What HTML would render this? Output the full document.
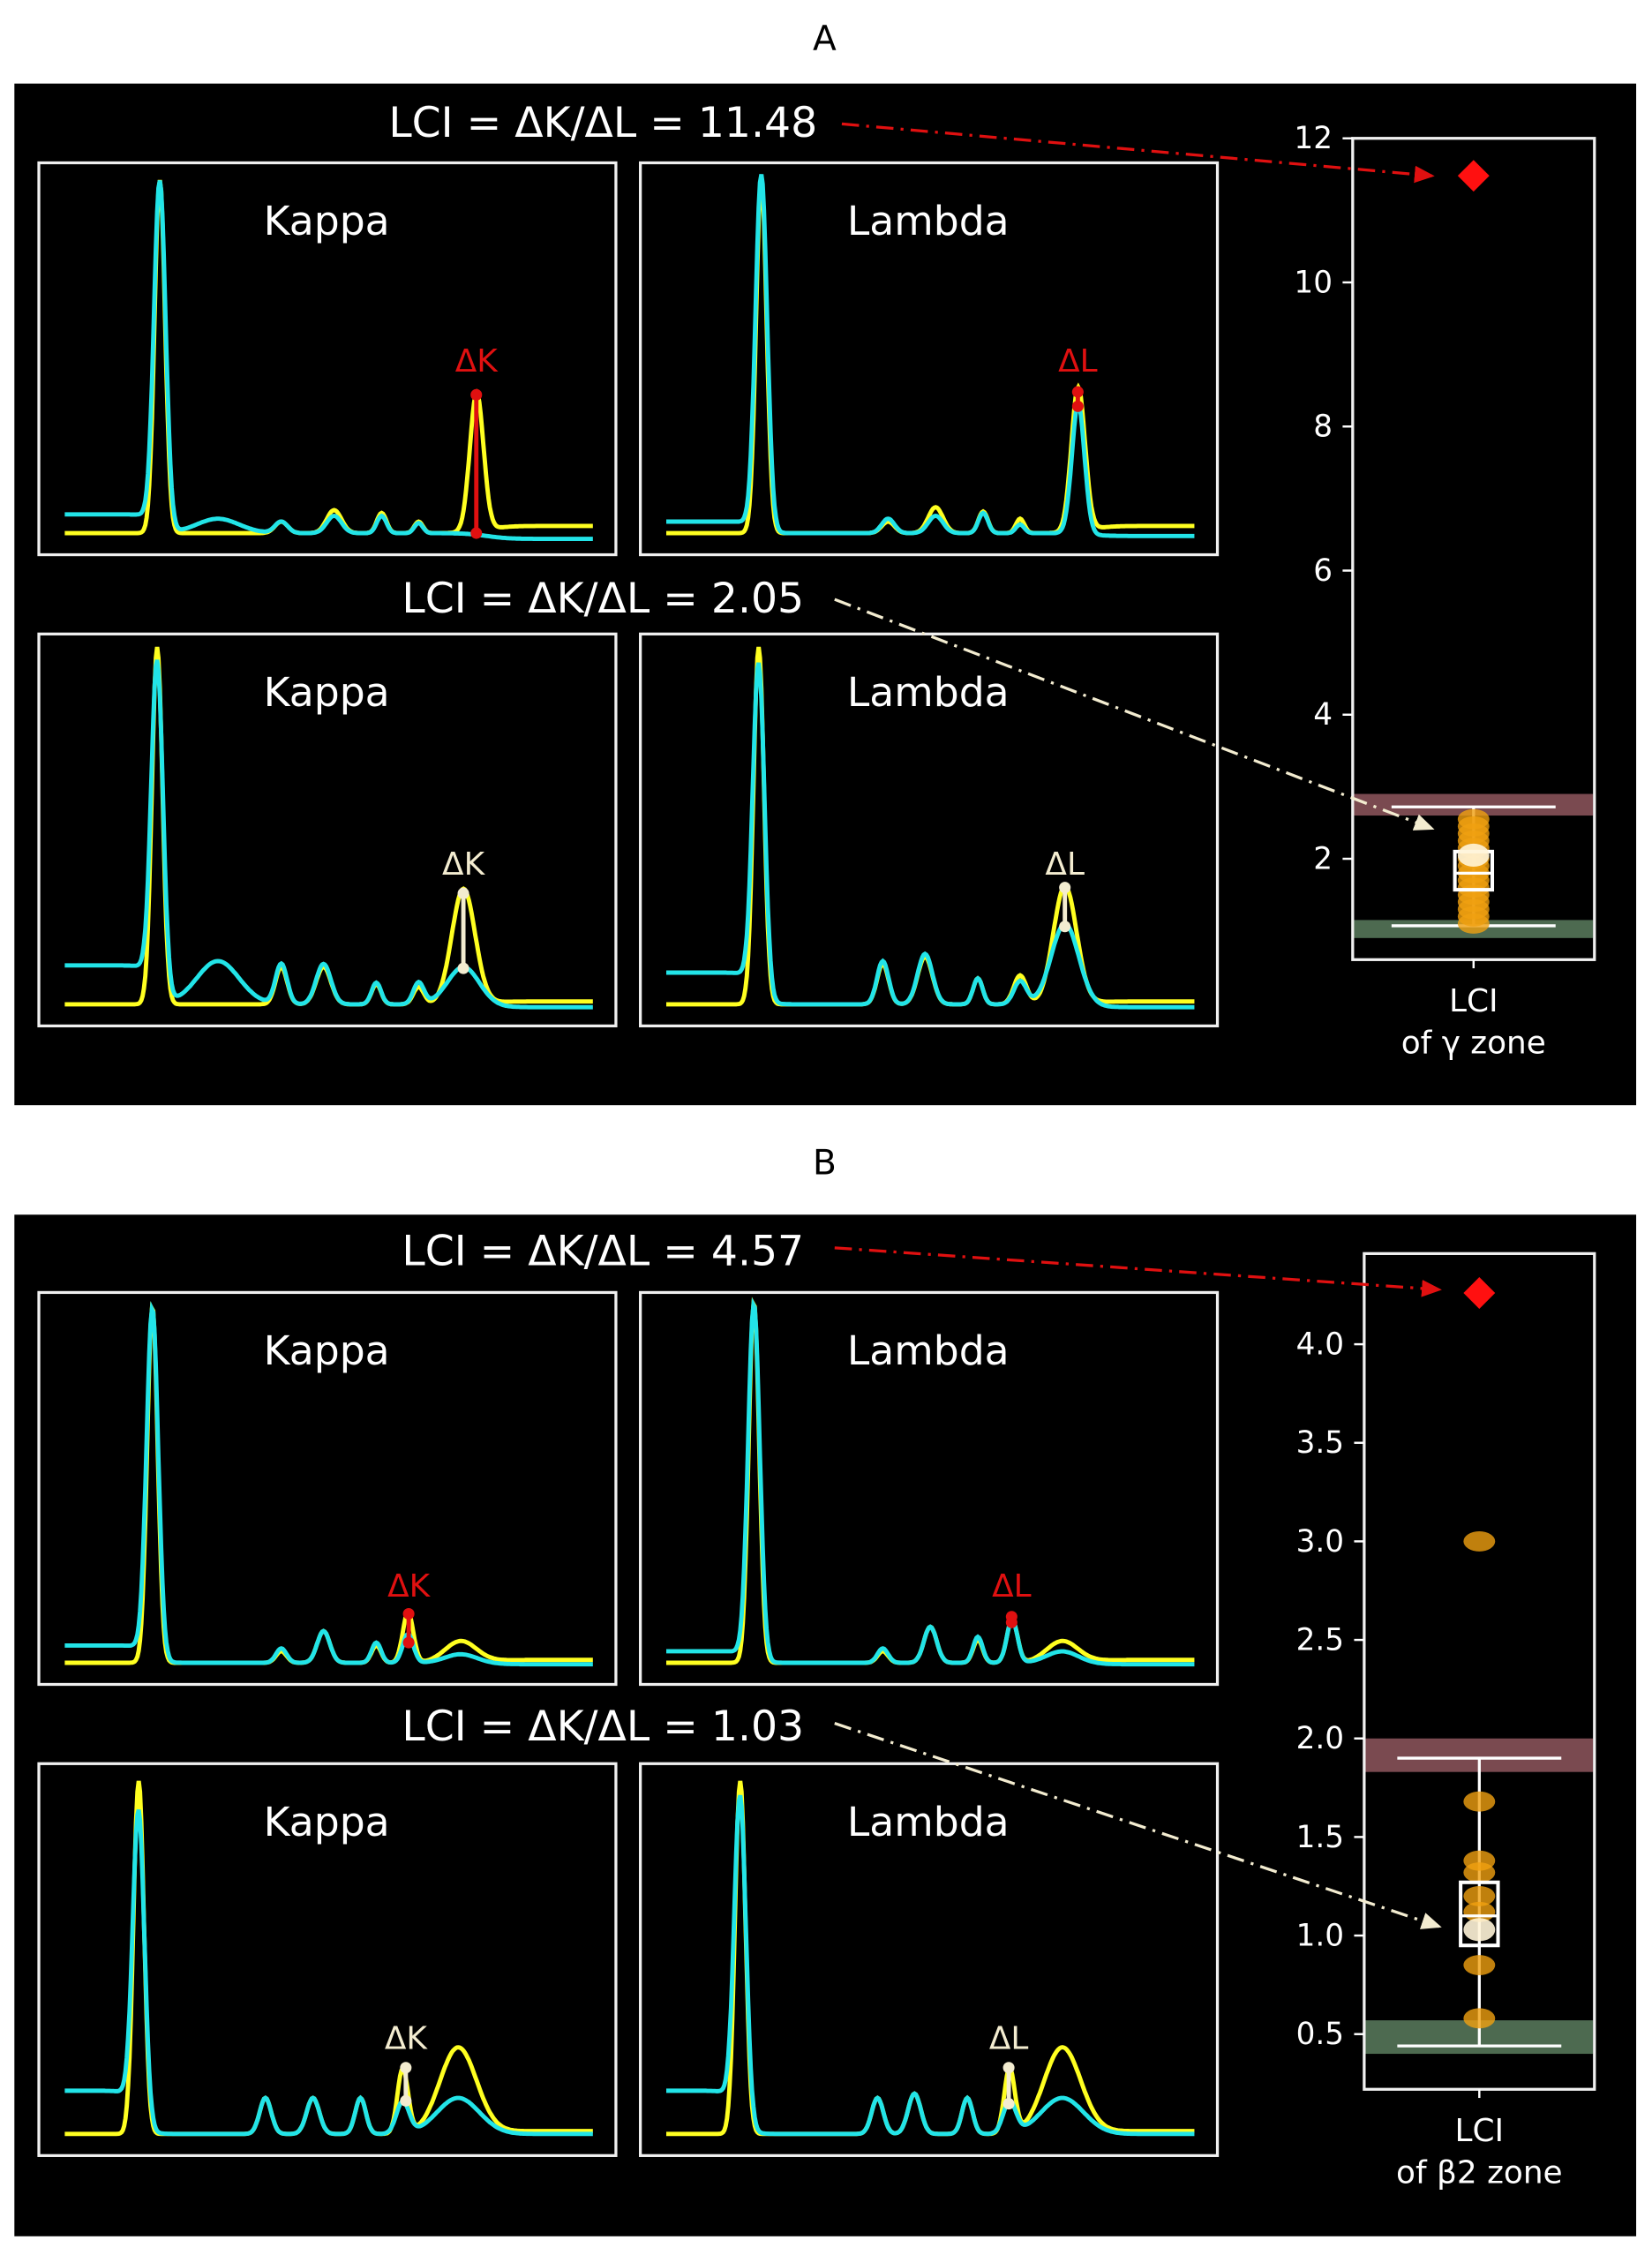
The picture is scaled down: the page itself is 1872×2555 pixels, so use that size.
<!DOCTYPE html>
<html><head><meta charset="utf-8"><style>
html,body{margin:0;padding:0;background:#fff}
svg{display:block}
text{font-family:"DejaVu Sans","Liberation Sans",sans-serif}
</style></head><body>
<svg id="fig" width="1872" height="2555" viewBox="0 0 1148 1565" preserveAspectRatio="none" xmlns="http://www.w3.org/2000/svg">
<defs>
<marker id="ahR" markerWidth="8" markerHeight="8" refX="6" refY="4" orient="auto"><path d="M0,1 L7,4 L0,7 Z" fill="#e01010"/></marker>
<marker id="ahW" markerWidth="8" markerHeight="8" refX="6" refY="4" orient="auto"><path d="M0,1 L7,4 L0,7 Z" fill="#f3ecd0"/></marker>
</defs>
<text x="573" y="35" font-size="24" text-anchor="middle" fill="#000">A</text>
<rect x="10" y="58" width="1127" height="709" fill="#000"/>
<text x="573" y="815" font-size="24" text-anchor="middle" fill="#000">B</text>
<rect x="10" y="843" width="1127" height="709" fill="#000"/>
<g id="content"></g>
</svg>
<script>
// ---- data: spectra peaks [center(0..1), height(px units), width] ----
const aTopKappaYellow=[[0.18,245,0.010],[0.41,8,0.012],[0.51,16,0.014],[0.60,14,0.009],[0.67,8,0.008],[0.78,96,0.013]];
const aTopKappaCyan=[[0.18,238,0.011],[0.29,10,0.04],[0.41,8,0.012],[0.51,12,0.014],[0.60,12,0.009],[0.67,7,0.008]];
const aTopLambdaYellow=[[0.18,245,0.010],[0.42,8,0.012],[0.51,18,0.014],[0.60,15,0.009],[0.67,10,0.008],[0.78,100,0.013]];
const aTopLambdaCyan=[[0.18,245,0.011],[0.42,10,0.012],[0.51,12,0.014],[0.60,14,0.009],[0.67,6,0.008],[0.78,90,0.012]];
const aBotKappaYellow=[[0.175,248,0.010],[0.41,26,0.011],[0.49,26,0.014],[0.59,14,0.009],[0.67,12,0.010],[0.755,80,0.022]];
const aBotKappaCyan=[[0.175,225,0.011],[0.29,30,0.04],[0.41,28,0.011],[0.49,28,0.014],[0.59,15,0.009],[0.67,15,0.010],[0.755,26,0.03]];
const aBotLambdaYellow=[[0.175,248,0.010],[0.41,28,0.011],[0.49,33,0.014],[0.59,18,0.009],[0.67,20,0.012],[0.755,82,0.022]];
const aBotLambdaCyan=[[0.175,226,0.011],[0.41,30,0.011],[0.49,35,0.014],[0.59,18,0.009],[0.67,16,0.012],[0.755,56,0.026]];
const bTopKappaYellow=[[0.166,247,0.010],[0.41,8,0.010],[0.49,22,0.012],[0.59,12,0.009],[0.65,35,0.010],[0.75,15,0.03]];
const bTopKappaCyan=[[0.166,240,0.011],[0.41,10,0.010],[0.49,22,0.012],[0.59,14,0.009],[0.65,20,0.010],[0.75,6,0.03]];
const bTopLambdaYellow=[[0.166,250,0.010],[0.41,8,0.010],[0.50,25,0.012],[0.59,16,0.009],[0.655,30,0.010],[0.75,15,0.03]];
const bTopLambdaCyan=[[0.166,245,0.011],[0.41,10,0.010],[0.50,25,0.012],[0.59,18,0.009],[0.655,30,0.010],[0.75,8,0.03]];
const bBotKappaYellow=[[0.14,245,0.010],[0.38,25,0.011],[0.47,25,0.012],[0.56,25,0.010],[0.64,45,0.010],[0.745,60,0.035]];
const bBotKappaCyan=[[0.14,210,0.011],[0.38,25,0.011],[0.47,25,0.012],[0.56,25,0.010],[0.64,22,0.012],[0.745,25,0.04]];
const bBotLambdaYellow=[[0.14,245,0.010],[0.40,25,0.011],[0.47,28,0.012],[0.57,25,0.010],[0.65,45,0.010],[0.75,60,0.035]];
const bBotLambdaCyan=[[0.14,220,0.011],[0.40,25,0.011],[0.47,28,0.012],[0.57,25,0.010],[0.65,22,0.012],[0.75,25,0.04]];
// ---- box-plot data ----
const aTicks=[2,4,6,8,10,12];
const aPoints=[2.55,2.45,2.35,2.25,2.15,2.0,1.9,1.8,1.7,1.6,1.5,1.4,1.3,1.2,1.1];
const aSample=[2.05];
const aOutlier=[11.48];
const aBox=[1.07,1.57,1.8,2.1,2.72]; // whiskerLo,q1,median,q3,whiskerHi
const aBands=[[2.6,2.9],[0.9,1.15]];
const bTicks=[0.5,1.0,1.5,2.0,2.5,3.0,3.5,4.0];
const bPoints=[3.0,1.68,1.38,1.32,1.2,1.12,0.85,0.58];
const bSample=[1.03];
const bOutlier=[4.26];
const bBox=[0.44,0.95,1.1,1.27,1.9];
const bBands=[[1.83,2.0],[0.4,0.57]];

const NS="http://www.w3.org/2000/svg";
const root=document.getElementById('content');
function mk(tag,attrs,parent){const e=document.createElementNS(NS,tag);for(const k in attrs)e.setAttribute(k,attrs[k]);(parent||root).appendChild(e);return e;}

function spectrum(peaks,x0,y0,shelf,endOff){
  const base=y0+257, W=367, xs=x0+18;
  let d='';
  for(let i=0;i<=400;i++){
    const t=i/400;
    let v=0;
    for(const p of peaks){v+=p[1]*Math.exp(-((t-p[0])**2)/(2*p[2]*p[2]));}
    const s=1/(1+Math.exp((t-peaks[0][0])/0.01));
    v+=shelf*s;
    v+=endOff*(1/(1+Math.exp(-(t-0.8)/0.02)));
    d+=(i?'L':'M')+(xs+t*W).toFixed(1)+','+(base-v).toFixed(1);
  }
  return d;
}
function subplot(name,x0,y0,title,yel,cyan,shelfY,shelfC,endY,endC){
  const g=mk('g',{});
  
  
  const r=mk('rect',{x:x0,y:y0,width:401,height:272,fill:'#000',stroke:'#f0f0f0','stroke-width':2},g);
  
  
  const tt=mk('text',{x:x0+200,y:y0+50,'font-size':28,'text-anchor':'middle',fill:'#fff'},g);
  tt.textContent=title;
  
  
  const py=mk('path',{d:spectrum(yel,x0,y0,shelfY,endY),fill:'none',stroke:'#ffff20','stroke-width':3},g);
  
  
  const pc=mk('path',{d:spectrum(cyan,x0,y0,shelfC,endC),fill:'none',stroke:'#22e4e8','stroke-width':3},g);
  
  
  return g;
}
function delta(name,x,y1,y2,label,color,ly){
  const l=mk('line',{x1:x,y1:y1,x2:x,y2:y2,stroke:color,'stroke-width':3});
  
  
  [y1,y2].forEach(y=>{const c=mk('circle',{cx:x,cy:y,r:4,fill:color});
    
    });
  const t=mk('text',{x:x,y:ly,'font-size':22,'text-anchor':'middle',fill:color});
  t.textContent=label;
  
  
}
function heading(name,x,y,txt){
  const t=mk('text',{x:x,y:y,'font-size':29,'text-anchor':'middle',fill:'#fff'});
  t.textContent=txt;
  
  
}
function arrow(name,x1,y1,x2,y2,color,mid){
  const l=mk('line',{x1,y1,x2,y2,stroke:color,'stroke-width':2,'stroke-dasharray':'12,5,2,5','marker-end':'url(#'+mid+')'});
  
  
}
// Panel A
subplot('a-top-kappa',27,113,'Kappa',aTopKappaYellow,aTopKappaCyan,0,13,5,-4);
subplot('a-top-lambda',445,113,'Lambda',aTopLambdaYellow,aTopLambdaCyan,0,8,5,-2);
subplot('a-bottom-kappa',27,440,'Kappa',aBotKappaYellow,aBotKappaCyan,0,27,2,-2);
subplot('a-bottom-lambda',445,440,'Lambda',aBotLambdaYellow,aBotLambdaCyan,0,22,2,-2);
delta('a-top-delta-k',331,274,370,'ΔK','#e01010',258);
delta('a-top-delta-l',749,272,282,'ΔL','#e01010',258);
delta('a-bottom-delta-k',322,620,672,'ΔK','#f3ecd0',607);
delta('a-bottom-delta-l',740,616,643,'ΔL','#f3ecd0',607);
heading('a-top-lci-text',419,95,'LCI = ΔK/ΔL = 11.48');
heading('a-bottom-lci-text',419,425,'LCI = ΔK/ΔL = 2.05');
// Panel B
subplot('b-top-kappa',27,897,'Kappa',bTopKappaYellow,bTopKappaCyan,0,12,2,-1);
subplot('b-top-lambda',445,897,'Lambda',bTopLambdaYellow,bTopLambdaCyan,0,8,2,-1);
subplot('b-bottom-kappa',27,1224,'Kappa',bBotKappaYellow,bBotKappaCyan,0,30,2,0);
subplot('b-bottom-lambda',445,1224,'Lambda',bBotLambdaYellow,bBotLambdaCyan,0,30,2,0);
delta('b-top-delta-k',284,1120,1140,'ΔK','#e01010',1108);
delta('b-top-delta-l',703,1122,1126,'ΔL','#e01010',1108);
delta('b-bottom-delta-k',282,1435,1458,'ΔK','#f3ecd0',1422);
delta('b-bottom-delta-l',701,1435,1460,'ΔL','#f3ecd0',1422);
heading('b-top-lci-text',419,878,'LCI = ΔK/ΔL = 4.57');
heading('b-bottom-lci-text',419,1208,'LCI = ΔK/ΔL = 1.03');

function boxAxis(prefix,bx,by,bw,bh,vmin,vmax,ticks,fmt,points,sample,outlier,box,bands,xl1,xl2){
  const y=v=>by+bh-(v-vmin)/(vmax-vmin)*bh;
  const cx=bx+bw/2;
  bands.forEach((b,i)=>{const r=mk('rect',{x:bx+1,y:y(b[1]),width:bw-2,height:y(b[0])-y(b[1]),fill:i==0?'#7a4a50':'#4d6a50'});
    
    });
  const wl=mk('line',{x1:cx,x2:cx,y1:y(box[0]),y2:y(box[4]),stroke:'#fff','stroke-width':2});
  
  
  [box[0],box[4]].forEach(v=>{const c=mk('line',{x1:cx-57,x2:cx+57,y1:y(v),y2:y(v),stroke:'#fff','stroke-width':2});
    
    });
  points.forEach(v=>{const c=mk('ellipse',{cx:cx,cy:y(v),rx:11,ry:7,fill:'#f0a010','fill-opacity':0.8});
    
    });
  const bb=mk('rect',{x:cx-13,y:y(box[3]),width:26,height:y(box[1])-y(box[3]),fill:'none',stroke:'#fff','stroke-width':2.5});
  
  
  const md=mk('line',{x1:cx-13,x2:cx+13,y1:y(box[2]),y2:y(box[2]),stroke:'#fff','stroke-width':2});
  
  
  sample.forEach(v=>{const c=mk('ellipse',{cx:cx,cy:y(v),rx:11,ry:8,fill:'#fff4d8','fill-opacity':0.9});
    
    });
  outlier.forEach(v=>{const yy=Math.max(y(v),by+14);const c=mk('path',{d:`M${cx},${yy-11} L${cx+11},${yy} L${cx},${yy+11} L${cx-11},${yy} Z`,fill:'#ff1010'});
    
    });
  const fr=mk('rect',{x:bx,y:by,width:bw,height:bh,fill:'none',stroke:'#f0f0f0','stroke-width':2});
  
  
  ticks.forEach(v=>{
    const tl=mk('line',{x1:bx-7,x2:bx,y1:y(v),y2:y(v),stroke:'#fff','stroke-width':1.5});
    
    
    const t=mk('text',{x:bx-14,y:y(v)+7,'font-size':21,'text-anchor':'end',fill:'#fff'});
    t.textContent=fmt(v);
    
    
  });
  const xt=mk('line',{x1:cx,x2:cx,y1:by+bh,y2:by+bh+6,stroke:'#fff','stroke-width':1.5});
  
  
  const t1=mk('text',{x:cx,y:by+bh+36,'font-size':22,'text-anchor':'middle',fill:'#fff'});
  t1.textContent=xl1;
  
  
  const t2=mk('text',{x:cx,y:by+bh+65,'font-size':22,'text-anchor':'middle',fill:'#fff'});
  t2.textContent=xl2;
  
  
}
boxAxis('a-lci-axis',940,96,168,570,0.6,12,aTicks,v=>String(v),aPoints,aSample,aOutlier,aBox,aBands,'LCI','of γ zone');
boxAxis('b-lci-axis',948,870,160,580,0.22,4.46,bTicks,v=>v.toFixed(1),bPoints,bSample,bOutlier,bBox,bBands,'LCI','of β2 zone');
arrow('a-red-arrow',585,86,995,122,'#e01010','ahR');
arrow('a-white-arrow',580,416,995,575,'#f3ecd0','ahW');
arrow('b-red-arrow',580,866,1000,895,'#e01010','ahR');
arrow('b-white-arrow',580,1196,1000,1337,'#f3ecd0','ahW');
</script>
</body></html>
